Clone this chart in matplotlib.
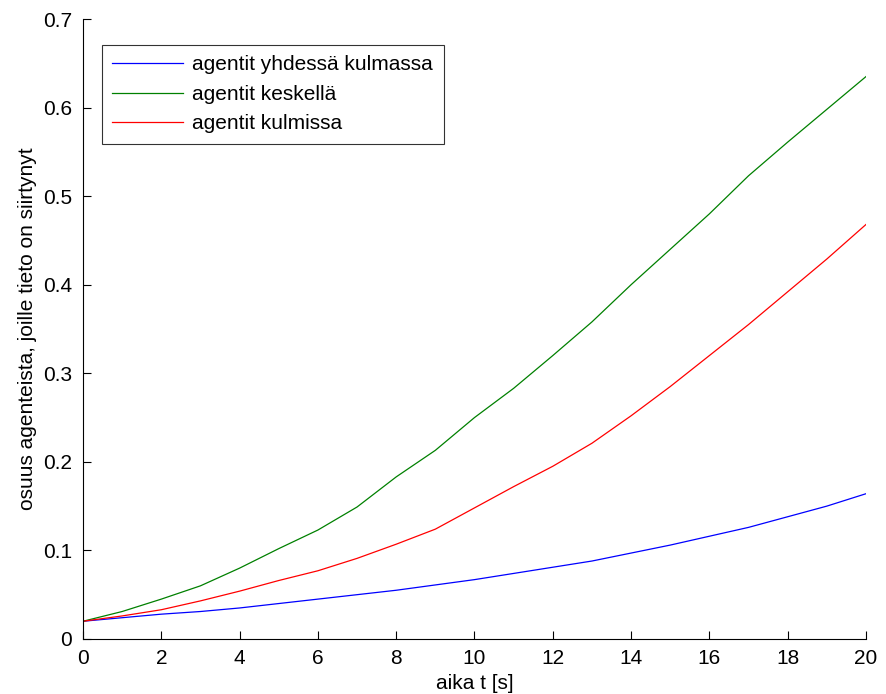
import matplotlib.pyplot as plt

plt.rcParams['font.family'] = ['Liberation Sans', 'DejaVu Sans']

t = list(range(21))
yhdessa_kulmassa = [0.020, 0.024, 0.028, 0.031, 0.035, 0.040, 0.045, 0.050, 0.055, 0.061, 0.067,
                    0.074, 0.081, 0.088, 0.097, 0.106, 0.116, 0.126, 0.138, 0.150, 0.164]
keskella = [0.020, 0.031, 0.045, 0.060, 0.080, 0.102, 0.123, 0.149, 0.183, 0.213, 0.250,
            0.283, 0.320, 0.358, 0.400, 0.440, 0.480, 0.523, 0.561, 0.598, 0.635]
kulmissa = [0.020, 0.026, 0.033, 0.043, 0.054, 0.066, 0.077, 0.091, 0.107, 0.124, 0.148,
            0.172, 0.195, 0.221, 0.252, 0.285, 0.320, 0.355, 0.392, 0.429, 0.468]
labels = ['agentit yhdessä kulmassa', 'agentit keskellä', 'agentit kulmissa']

fs = 15

fig = plt.figure(figsize=(8.86, 6.94), dpi=100)
ax = fig.add_axes([0.0937, 0.0793, 0.8837, 0.8933])

ax.plot(t, yhdessa_kulmassa, color='#0000ff', lw=0.9, label=labels[0])
ax.plot(t, keskella, color='#008000', lw=0.9, label=labels[1])
ax.plot(t, kulmissa, color='#ff0000', lw=0.9, label=labels[2])

ax.set_xlim(0, 20)
ax.set_ylim(0, 0.7)
ax.set_xticks(range(0, 21, 2))
ax.set_yticks([0, 0.1, 0.2, 0.3, 0.4, 0.5, 0.6, 0.7])
ax.set_yticklabels(['0', '0.1', '0.2', '0.3', '0.4', '0.5', '0.6', '0.7'])
ax.tick_params(direction='in', length=5.5, width=0.8, labelsize=fs)
ax.tick_params(axis='y', pad=8)
ax.tick_params(axis='x', pad=7.5)
ax.spines['top'].set_visible(False)
ax.spines['right'].set_visible(False)

ax.set_xlabel('aika t [s]', fontsize=fs, labelpad=4)
ax.set_ylabel('osuus agenteista, joille tieto on siirtynyt', fontsize=fs, labelpad=4)

leg = ax.legend(loc='upper left', bbox_to_anchor=(0.024, 0.958), fontsize=fs,
                frameon=True, fancybox=False, edgecolor='black', borderaxespad=0,
                handlelength=3.4, handletextpad=0.45, labelspacing=0.5, borderpad=0.5)
leg.get_frame().set_linewidth(0.8)

fig.savefig('out.png', dpi=100)
